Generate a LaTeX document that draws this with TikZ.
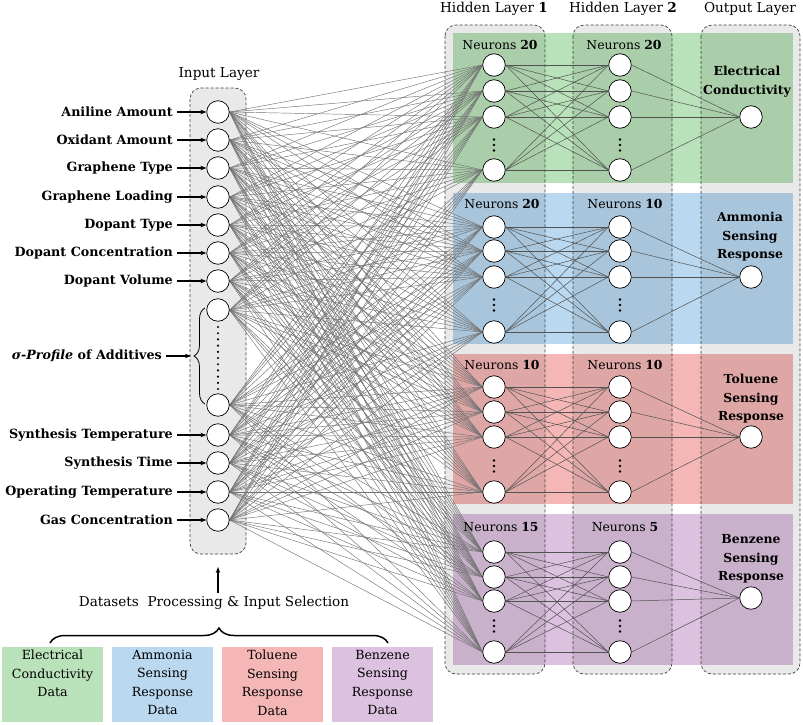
\documentclass[tikz,border=0pt]{standalone}
\usepackage{fontspec}
\setmainfont{DejaVu Serif}
\usetikzlibrary{arrows.meta,decorations.pathreplacing,calc}
\definecolor{cgreen}{RGB}{186,226,186}
\definecolor{cblue}{RGB}{186,216,240}
\definecolor{cred}{RGB}{245,182,182}
\definecolor{cpurple}{RGB}{220,194,224}
\pgfdeclarelayer{bg}
\pgfdeclarelayer{lines}
\pgfsetlayers{bg,lines,main}
\begin{document}
\begin{tikzpicture}[x=1pt,y=-1pt,
  neuron/.style={circle,draw=black,fill=white,line width=0.7pt,minimum size=22.5pt,inner sep=0pt},
  layerbox/.style={draw=black!75,dash pattern=on 3pt off 2pt,line width=0.7pt,rounded corners=11pt,fill=black,fill opacity=0.085},
  conn/.style={draw=black!55,line width=0.45pt},
  hconn/.style={draw=black!68,line width=0.5pt},
  inlab/.style={font=\fontsize{12.7}{15}\selectfont\bfseries,anchor=east,inner xsep=4pt,inner ysep=0pt},
  hdr/.style={font=\fontsize{13.6}{16}\selectfont},
  neur/.style={font=\fontsize{12.4}{14}\selectfont},
  outlab/.style={font=\fontsize{12.4}{18.5}\selectfont\bfseries,align=center},
  databox/.style={font=\fontsize{12.6}{18.5}\selectfont,align=center,anchor=north,text width=100pt,inner sep=0pt},
  arr/.style={-{Stealth[length=6pt,width=4.5pt]},line width=1.1pt},
  vdot/.style={fill=black}
]
\useasboundingbox (0,0) rectangle (803,725);

% ---------- backgrounds ----------
\begin{pgfonlayer}{bg}
  \fill[cgreen]  (453,33)  rectangle (793,183);
  \fill[cblue]   (453,193) rectangle (793,344);
  \fill[cred]    (453,354) rectangle (793,504);
  \fill[cpurple] (453,514) rectangle (793,665);
  \path[layerbox] (445,25) rectangle (545,674);
  \path[layerbox] (573,25) rectangle (672,674);
  \path[layerbox] (701,25) rectangle (800,674);
  \path[layerbox] (190,88) rectangle (246,554);
  % bottom data boxes
  \fill[cgreen]  (2,647)   rectangle (103,722);
  \fill[cblue]   (112,647) rectangle (213,722);
  \fill[cred]    (222,647) rectangle (323,722);
  \fill[cpurple] (332,647) rectangle (433,722);
\end{pgfonlayer}

% ---------- headers ----------
\node[hdr] (hInput) at (219,74) {Input Layer};
\node[hdr] (hH1) at (494,9) {Hidden Layer \textbf{1}};
\node[hdr] (hH2) at (623,9) {Hidden Layer \textbf{2}};
\node[hdr] (hOut) at (750,9) {Output Layer};

% ---------- input neurons ----------
\foreach \y [count=\i] in {112,140,168,197,225,253,281,310,405,435,463,492,520}
  \node[neuron] (i\i) at (218,\y) {};

\foreach \i/\t in {1/Aniline Amount,2/Oxidant Amount,3/Graphene Type,4/Graphene Loading,5/Dopant Type,6/Dopant Concentration,7/Dopant Volume,10/Synthesis Temperature,11/Synthesis Time,12/Operating Temperature,13/Gas Concentration}{
  \node[inlab] (l\i) at (177,{0}|-i\i) {\t};
}
\foreach \i in {1,...,7,10,11,12,13}
  \draw[arr] (l\i.east) -- (i\i.west);

% sigma profile
\foreach \k in {0,...,10}
  \fill (218,{327+6.2*\k}) circle (1.2pt);
\draw[line width=0.8pt,decorate,decoration={brace,amplitude=11pt}] (205,404) -- (205,308);
\coordinate (btip) at (191,356);
\node[inlab] (lsig) at (166,356) {\textit{σ-Profile} of Additives};
\draw[arr] (lsig.east) -- (btip);

% ---------- hidden / output neurons ----------
\foreach \p/\ya/\yb/\yc/\yd/\ydt/\yo in {1/65/91/117/170/145/117,2/227/251/277/332/305/277,3/387/412/437/492/466/437,4/552/577/601/652/626/598}{
  \node[neuron] (h\p1) at (494,\ya) {};
  \node[neuron] (h\p2) at (494,\yb) {};
  \node[neuron] (h\p3) at (494,\yc) {};
  \node[neuron] (h\p4) at (494,\yd) {};
  \node[neuron] (g\p1) at (620,\ya) {};
  \node[neuron] (g\p2) at (620,\yb) {};
  \node[neuron] (g\p3) at (620,\yc) {};
  \node[neuron] (g\p4) at (620,\yd) {};
  \node[neuron] (o\p) at (751,\yo) {};
  \foreach \dd in {-5.5,0,5.5}{
    \fill (494,\ydt+\dd) circle (1.4pt);
    \fill (620,\ydt+\dd) circle (1.4pt);
  }
}

% neuron counts
\node[neur] (n11) at (500,45) {Neurons \textbf{20}};
\node[neur] (n12) at (624,45) {Neurons \textbf{20}};
\node[neur] (n21) at (502,204) {Neurons \textbf{20}};
\node[neur] (n22) at (625,204) {Neurons \textbf{10}};
\node[neur] (n31) at (502,365) {Neurons \textbf{10}};
\node[neur] (n32) at (625,365) {Neurons \textbf{10}};
\node[neur] (n41) at (501,527) {Neurons \textbf{15}};
\node[neur] (n42) at (625,527) {Neurons \textbf{5}};

% output labels
\node[outlab] (t1) at (747,81.5) {Electrical\\Conductivity};
\node[outlab] (t2) at (750,237) {Ammonia\\Sensing\\Response};
\node[outlab] (t3) at (751,399) {Toluene\\Sensing\\Response};
\node[outlab] (t4) at (751,559) {Benzene\\Sensing\\Response};

% ---------- connections ----------
\begin{pgfonlayer}{lines}
  \foreach \i in {1,...,13}
    \foreach \p in {1,...,4}
      \foreach \k in {1,...,4}
        \draw[conn] (i\i.east) -- (h\p\k.west);
  \foreach \p in {1,...,4}{
    \foreach \a in {1,...,4}{
      \foreach \b in {1,...,4}
        \draw[hconn] (h\p\a.east) -- (g\p\b.west);
      \draw[hconn] (g\p\a.east) -- (o\p.west);
    }
  }
\end{pgfonlayer}

% ---------- bottom ----------
\node[font=\fontsize{13.6}{16}\selectfont] (ds) at (214,603) {Datasets\ \ Processing \& Input Selection};
\coordinate (dstip) at (218,567);
\draw[arr] (ds.north -| dstip) -- (dstip);
\draw[line width=1.5pt,decorate,decoration={brace,amplitude=15pt}] (50,643) -- (388,643);

\node[databox] (d1) at (52.5,650) {Electrical\\Conductivity\\Data};
\node[databox] (d2) at (162.5,650) {Ammonia\\Sensing\\Response\\Data};
\node[databox] (d3) at (272.5,650) {Toluene\\Sensing\\Response\\Data};
\node[databox] (d4) at (382.5,650) {Benzene\\Sensing\\Response\\Data};
\end{tikzpicture}
\end{document}
